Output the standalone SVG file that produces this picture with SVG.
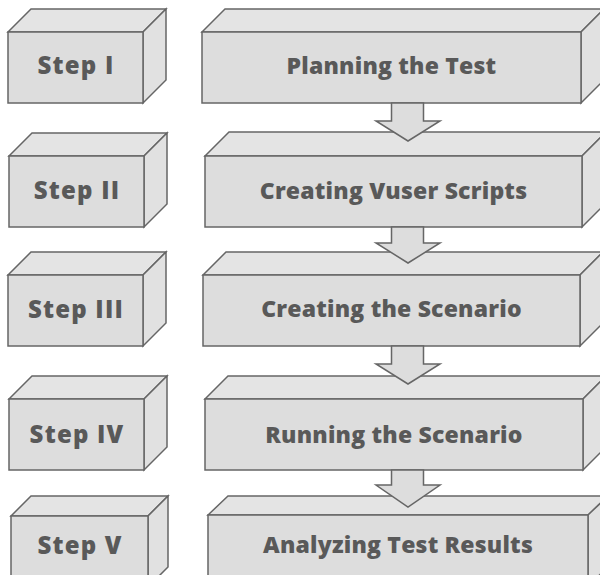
<svg xmlns="http://www.w3.org/2000/svg" width="600" height="575" viewBox="0 0 600 575">
<style>
.front{fill:#dddddd;stroke:#666666;stroke-width:1.5;stroke-linejoin:miter}
.top{fill:#e4e4e4;stroke:#666666;stroke-width:1.5}
.side{fill:#e1e1e1;stroke:#666666;stroke-width:1.5}
.arrow{fill:#dddddd;stroke:#666666;stroke-width:1.5}
.lbl{font-family:"Open Sans","Noto Sans","DejaVu Sans",sans-serif;font-weight:800;font-size:23px;fill:#595959;text-anchor:middle;letter-spacing:0.2px}
.step{font-size:24px;letter-spacing:1.2px}
</style>
<rect width="600" height="575" fill="#ffffff"/>

<g id="step1">
<polygon class="top" points="8,32 31,9 166,9 143,32"/>
<polygon class="side" points="143,32 166,9 166,80 143,103"/>
<rect class="front" x="8" y="32" width="135" height="71"/>
<text class="lbl step" x="76" y="74">Step I</text>
</g>
<g id="step2">
<polygon class="top" points="9,156 32,133 167,133 144,156"/>
<polygon class="side" points="144,156 167,133 167,204 144,227"/>
<rect class="front" x="9" y="156" width="135" height="71"/>
<text class="lbl step" x="77" y="199">Step II</text>
</g>
<g id="step3">
<polygon class="top" points="8,275 31,252 166,252 143,275"/>
<polygon class="side" points="143,275 166,252 166,323 143,346"/>
<rect class="front" x="8" y="275" width="135" height="71"/>
<text class="lbl step" x="76" y="318">Step III</text>
</g>
<g id="step4">
<polygon class="top" points="9,399 32,376 167,376 144,399"/>
<polygon class="side" points="144,399 167,376 167,447 144,470"/>
<rect class="front" x="9" y="399" width="135" height="71"/>
<text class="lbl step" x="77" y="443">Step IV</text>
</g>
<g id="step5">
<polygon class="top" points="11,516 31,496 168,496 148,516"/>
<polygon class="side" points="148,516 168,496 168,567 148,587"/>
<rect class="front" x="11" y="516" width="137" height="71"/>
<text class="lbl step" x="80" y="554">Step V</text>
</g>

<g id="box1">
<polygon class="top" points="202,32 225,9 604,9 581,32"/>
<polygon class="side" points="581,32 604,9 604,80 581,103"/>
<rect class="front" x="202" y="32" width="379" height="71"/>
<text class="lbl" x="391.5" y="74">Planning the Test</text>
</g>
<g id="box2">
<polygon class="top" points="205,156 229,132 606,132 582,156"/>
<polygon class="side" points="582,156 606,132 606,203 582,227"/>
<rect class="front" x="205" y="156" width="377" height="71"/>
<text class="lbl" x="393.5" y="199">Creating Vuser Scripts</text>
</g>
<g id="box3">
<polygon class="top" points="203,275 226,252 603,252 580,275"/>
<polygon class="side" points="580,275 603,252 603,323 580,346"/>
<rect class="front" x="203" y="275" width="377" height="71"/>
<text class="lbl" x="391.5" y="317">Creating the Scenario</text>
</g>
<g id="box4">
<polygon class="top" points="205,399 228,376 606,376 583,399"/>
<polygon class="side" points="583,399 606,376 606,447 583,470"/>
<rect class="front" x="205" y="399" width="378" height="71"/>
<text class="lbl" x="394" y="443">Running the Scenario</text>
</g>
<g id="box5">
<polygon class="top" points="208,515 228,496 608,496 588,515"/>
<polygon class="side" points="588,515 608,496 608,567 588,586"/>
<rect class="front" x="208" y="515" width="380" height="71"/>
<text class="lbl" x="398" y="553">Analyzing Test Results</text>
</g>

<g id="connectors">
<polygon class="arrow" points="391.5,103 423.5,103 423.5,121 440,121 408,141 376,121 391.5,121"/>
<polygon class="arrow" points="391.5,227 423.5,227 423.5,243 440,243 408,263 376,243 391.5,243"/>
<polygon class="arrow" points="391.5,346 423.5,346 423.5,364 440,364 408,384 376,364 391.5,364"/>
<polygon class="arrow" points="391.5,470 423.5,470 423.5,485 440,485 408,507 376,485 391.5,485"/>
</g>
</svg>
